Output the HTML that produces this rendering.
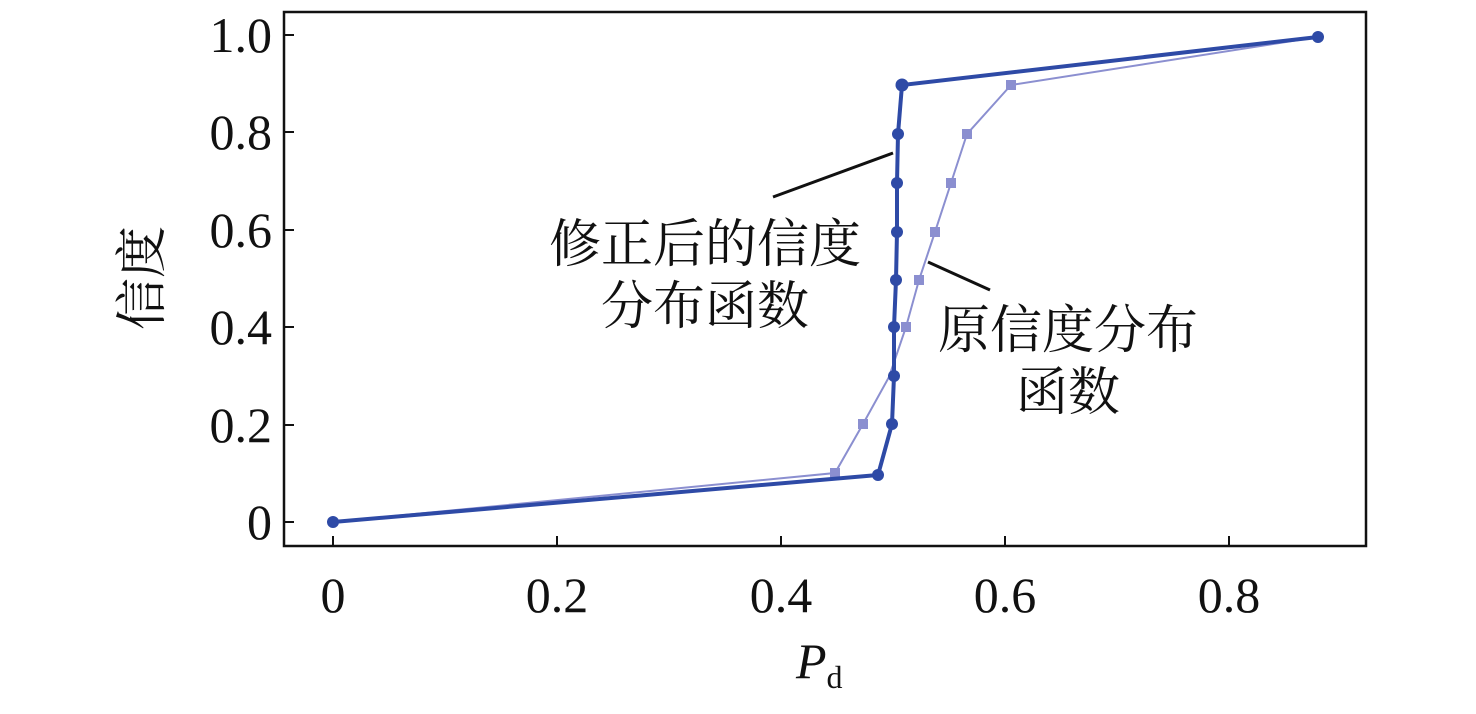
<!DOCTYPE html>
<html><head><meta charset="utf-8"><style>body{margin:0;background:#fff} svg text{font-family:"Liberation Serif","Noto Serif CJK SC",serif}</style></head><body>
<svg width="1476" height="709" viewBox="0 0 1476 709" xmlns="http://www.w3.org/2000/svg">
<rect x="284" y="12" width="1082" height="534" fill="none" stroke="#111" stroke-width="2.5"/>
<g stroke="#111" stroke-width="2">
<line x1="284" y1="35" x2="294" y2="35"/><line x1="284" y1="132" x2="294" y2="132"/><line x1="284" y1="230" x2="294" y2="230"/><line x1="284" y1="327" x2="294" y2="327"/><line x1="284" y1="425" x2="294" y2="425"/><line x1="284" y1="522" x2="294" y2="522"/>
<line x1="333" y1="546" x2="333" y2="536"/><line x1="557" y1="546" x2="557" y2="536"/><line x1="781" y1="546" x2="781" y2="536"/><line x1="1005" y1="546" x2="1005" y2="536"/><line x1="1229" y1="546" x2="1229" y2="536"/>
</g>
<g font-size="50" fill="#111" text-anchor="end">
<text x="272" y="52">1.0</text><text x="272" y="149">0.8</text><text x="272" y="247">0.6</text><text x="272" y="344">0.4</text><text x="272" y="442">0.2</text><text x="272" y="539">0</text>
</g>
<g font-size="50" fill="#111" text-anchor="middle">
<text x="333" y="612">0</text><text x="557" y="612">0.2</text><text x="781" y="612">0.4</text><text x="1005" y="612">0.6</text><text x="1229" y="612">0.8</text>
</g>
<text x="796" y="678" font-size="50" font-style="italic" fill="#111">P<tspan font-size="32" font-style="normal" dy="10">d</tspan></text>
<text transform="translate(160,278) rotate(-90)" font-size="52" fill="#111" text-anchor="middle">信度</text>
<polyline fill="none" stroke="#8b8fd0" stroke-width="2" points="333,522 835,473 863,424 889,377 906,327 919,280 935,232 951,183 967,134 1011,85 1318,37"/>
<g fill="#8b8fd0">
<rect x="830" y="468" width="10" height="10"/><rect x="858" y="419" width="10" height="10"/><rect x="901" y="322" width="10" height="10"/><rect x="914" y="275" width="10" height="10"/><rect x="930" y="227" width="10" height="10"/><rect x="946" y="178" width="10" height="10"/><rect x="962" y="129" width="10" height="10"/><rect x="1006" y="80" width="10" height="10"/>
</g>
<polyline fill="none" stroke="#2e4aa6" stroke-width="4" points="333,522 878,475 892,424 894,376 894,327 896,280 897,232 897,183 898,134 902,85 1318,37"/>
<g fill="#2e4aa6">
<circle cx="333" cy="522" r="6"/><circle cx="878" cy="475" r="6"/><circle cx="892" cy="424" r="6"/><circle cx="894" cy="376" r="6"/><circle cx="894" cy="327" r="6"/><circle cx="896" cy="280" r="6"/><circle cx="897" cy="232" r="6"/><circle cx="897" cy="183" r="6"/><circle cx="898" cy="134" r="6"/><circle cx="902" cy="85" r="6.5"/><circle cx="1318" cy="37" r="6"/>
</g>
<line x1="773" y1="197" x2="893" y2="153" stroke="#111" stroke-width="3"/>
<line x1="928" y1="262" x2="990" y2="290" stroke="#111" stroke-width="3"/>
<g font-size="52" fill="#111" text-anchor="middle">
<text x="705" y="262">修正后的信度</text><text x="705" y="324">分布函数</text>
<text x="1068" y="348">原信度分布</text><text x="1068" y="410">函数</text>
</g>
</svg>
</body></html>
